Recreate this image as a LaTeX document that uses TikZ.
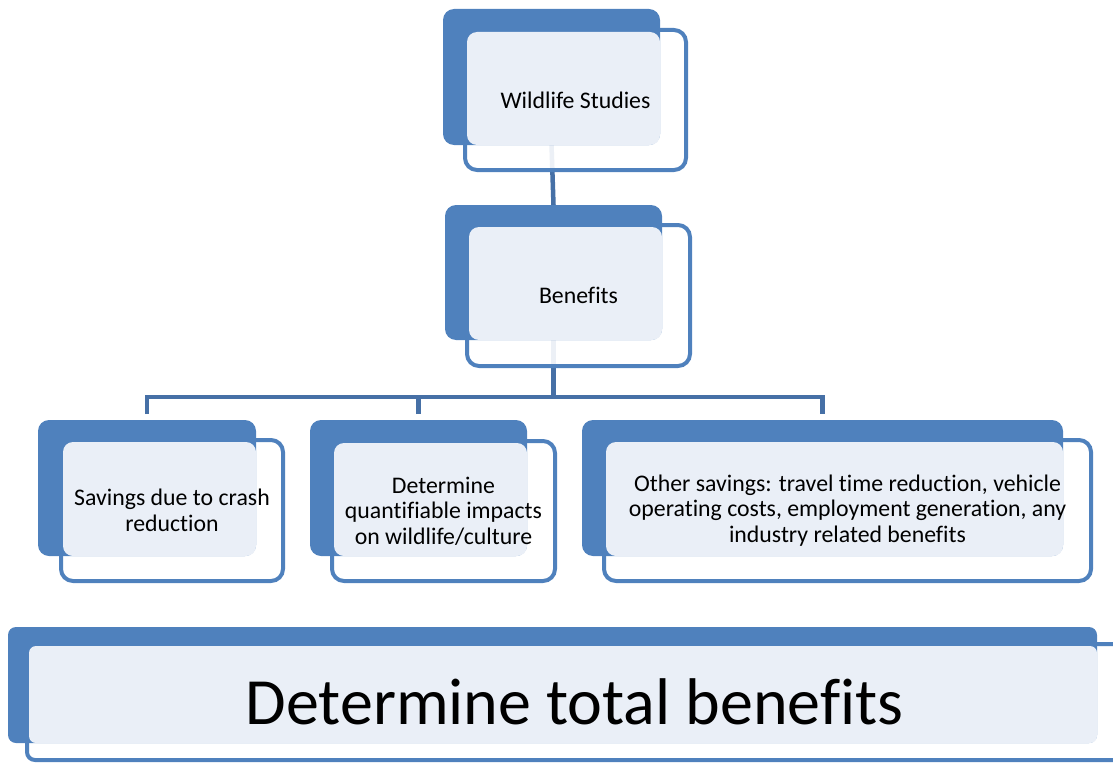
\documentclass[tikz,border=0pt]{standalone}
\usepackage{fontspec}
\setmainfont{Carlito}[RawFeature={-liga;-clig;-calt;-rlig;-dlig}]

\definecolor{boxblue}{RGB}{79,129,189}
\definecolor{tintblue}{RGB}{234,239,247}
\definecolor{wireblue}{RGB}{70,112,166}

\pgfdeclarelayer{wires}
\pgfdeclarelayer{frames}
\pgfdeclarelayer{tiles}
\pgfsetlayers{wires,frames,tiles,main}

\begin{document}
\begin{tikzpicture}[x=1pt, y=-1pt,
    tile/.style={fill=boxblue, rounded corners=11pt, inner sep=0pt, outer sep=0pt},
    caption/.style={inner sep=0pt, outer sep=0pt, align=center, font=\fontsize{23.8}{25.5}\selectfont},
    frame/.style={draw=boxblue, line width=4pt, fill=white, fill opacity=0.9, rounded corners=12pt},
    tint/.style={fill=tintblue, rounded corners=10pt},
    wire/.style={draw=wireblue, line width=4.5pt}]
    \useasboundingbox (0,0) rectangle (1113,765);

    % Top box
    \node[caption, minimum width=221pt, minimum height=140pt] (wild) at (575.5,100) {Wildlife Studies};
    \begin{pgfonlayer}{tiles}
        \node[tile, minimum width=217pt, minimum height=136pt] (wildB) at (551.5,77) {};
        \fill[tint] ([shift={(2pt,-2pt)}]wild.north west) rectangle (wildB.south east);
    \end{pgfonlayer}
    \begin{pgfonlayer}{frames}
        \draw[frame] (wild.north west) rectangle (wild.south east);
    \end{pgfonlayer}

    % Benefits box
    \node[caption, minimum width=223pt, minimum height=141pt] (ben) at (578.5,295.5) {Benefits};
    \begin{pgfonlayer}{tiles}
        \node[tile, minimum width=217pt, minimum height=135pt] (benB) at (553.5,272.5) {};
        \fill[tint] ([shift={(2pt,-2pt)}]ben.north west) rectangle (benB.south east);
    \end{pgfonlayer}
    \begin{pgfonlayer}{frames}
        \draw[frame] (ben.north west) rectangle (ben.south east);
    \end{pgfonlayer}

    % Row of three boxes
    \node[caption, minimum width=222pt, minimum height=141pt] (crash) at (172,510.5) {Savings due to crash\\reduction};
    \node[caption, minimum width=223pt, minimum height=140pt] (impact) at (443.5,511) {Determine\\quantifiable impacts\\on wildlife/culture};
    \node[caption, minimum width=487pt, minimum height=141pt] (other) at (847.5,510.5) {Other savings: travel time reduction, vehicle\\operating costs, employment generation, any\\industry related benefits};
    \begin{pgfonlayer}{tiles}
        \node[tile, minimum width=218pt, minimum height=136pt] (crashB) at (147,488) {};
        \node[tile, minimum width=217pt, minimum height=136pt] (impactB) at (418.5,488) {};
        \node[tile, minimum width=481pt, minimum height=136pt] (otherB) at (822.5,488) {};
        \fill[tint] ([shift={(2pt,-2pt)}]crash.north west) rectangle (crashB.south east);
        \fill[tint] ([shift={(2pt,-2pt)}]impact.north west) rectangle (impactB.south east);
        \fill[tint] ([shift={(2pt,-2pt)}]other.north west) rectangle (otherB.south east);
    \end{pgfonlayer}
    \begin{pgfonlayer}{frames}
        \draw[frame] (crash.north west) rectangle (crash.south east);
        \draw[frame] (impact.north west) rectangle (impact.south east);
        \draw[frame] (other.north west) rectangle (other.south east);
    \end{pgfonlayer}

    % Bottom box
    \node[caption, font=\fontsize{66}{79}\selectfont, minimum width=1095pt, minimum height=116pt] (total) at (574.5,702) {Determine total benefits};
    \begin{pgfonlayer}{tiles}
        \node[tile, rounded corners=8pt, minimum width=1089pt, minimum height=116pt] (totalB) at (552.5,685) {};
        \fill[tint, rounded corners=7pt] ([shift={(2pt,-2pt)}]total.north west) rectangle (totalB.south east);
    \end{pgfonlayer}
    \begin{pgfonlayer}{frames}
        \draw[frame, rounded corners=8pt] (total.north west) rectangle (total.south east);
    \end{pgfonlayer}

    % Connectors
    \coordinate (bus) at (553.5,397);
    \begin{pgfonlayer}{wires}
        \draw[wire] (wildB.south) -- (benB.north);
        \draw[wire] (benB.south) -- (bus);
        \draw[wire] ([yshift=6pt]crashB.north) |- (bus) -| ([yshift=6pt]otherB.north);
        \draw[wire] ([yshift=6pt]impactB.north) -- (impactB.north |- bus);
    \end{pgfonlayer}
\end{tikzpicture}
\end{document}
